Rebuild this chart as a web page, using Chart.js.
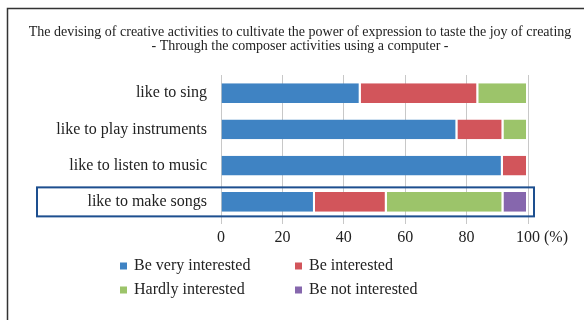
<!DOCTYPE html>
<html>
<head>
<meta charset="utf-8">
<script src="https://cdn.jsdelivr.net/npm/chart.js@4/dist/chart.umd.min.js"></script>
<style>
  html, body { margin: 0; padding: 0; background: #fff; }
  #wrap { width: 584px; height: 320px; }
</style>
</head>
<body>
<div id="wrap"><canvas id="myChart" width="584" height="320"></canvas></div>
<script>
// data (%)
var categories = ['like to sing', 'like to play instruments', 'like to listen to music', 'like to make songs'];
var veryInterested = [45.5, 77, 91.8, 30.6];
var interested = [38.3, 15, 8.2, 23.4];
var hardlyInterested = [16.2, 8, 0, 38];
var notInterested = [0, 0, 0, 8];
var xTicks = [0, 20, 40, 60, 80, 100];
var seriesNames = ['Be very interested', 'Be interested', 'Hardly interested', 'Be not interested'];
var titleLines = [
    'The devising of creative activities to cultivate the power of expression to taste the joy of creating',
    '- Through the composer activities using a computer -'
];

var serif = '"Liberation Serif", "Times New Roman", serif';
var colors = ['#3f83c3', '#d2555b', '#9cc46a', '#8667ad'];

function ds(i, values) {
    return {
        label: seriesNames[i],
        data: values,
        backgroundColor: colors[i],
        borderColor: '#ffffff',
        borderWidth: {top: 0, bottom: 0, left: 0, right: 2},
        borderSkipped: false,
        barPercentage: 0.55,
        categoryPercentage: 1
    };
}

// frame, title, highlight box, legend and the (%) unit
var extras = {
    id: 'extras',
    beforeDraw: function(chart){
        var ctx = chart.ctx;
        ctx.save();
        ctx.fillStyle = '#fff';
        ctx.fillRect(0, 0, chart.width, chart.height);
        ctx.strokeStyle = '#333';
        ctx.lineWidth = 1.5;
        ctx.beginPath();
        ctx.moveTo(7.5, chart.height);
        ctx.lineTo(7.5, 8.5);
        ctx.lineTo(chart.width, 8.5);
        ctx.stroke();

        ctx.fillStyle = '#222';
        ctx.font = '14px ' + serif;
        ctx.textAlign = 'center';
        ctx.textBaseline = 'middle';
        ctx.fillText(titleLines[0], 300, 32);
        ctx.fillText(titleLines[1], 300, 46);
        ctx.restore();
    },
    afterDraw: function(chart){
        var ctx = chart.ctx;
        var x = chart.scales.x, y = chart.scales.y;
        ctx.save();
        // box round the last row
        var cy = y.getPixelForValue(3);
        ctx.strokeStyle = '#1d4f8f';
        ctx.lineWidth = 2;
        ctx.strokeRect(37, cy - 14.5, x.getPixelForValue(100) + 6 - 37, 29);

        // unit
        ctx.fillStyle = '#222';
        ctx.font = '16px ' + serif;
        ctx.textBaseline = 'middle';
        ctx.textAlign = 'left';
        ctx.fillText('(%)', x.getPixelForValue(100) + 16, 238);

        // legend in two columns
        var cols = [120, 295];
        var rows = [266, 290];
        chart.data.datasets.forEach(function(d, i){
            var lx = cols[i % 2], ly = rows[Math.floor(i / 2)];
            ctx.fillStyle = d.backgroundColor;
            ctx.fillRect(lx, ly - 3.5, 7, 7);
            ctx.fillStyle = '#222';
            ctx.fillText(d.label, lx + 14, ly);
        });
        ctx.restore();
    }
};

var ctx = document.getElementById('myChart').getContext('2d');
var chart = new Chart(ctx, {
    type: 'bar',
    data: {
        labels: categories,
        datasets: [ds(0, veryInterested), ds(1, interested), ds(2, hardlyInterested), ds(3, notInterested)]
    },
    plugins: [extras],
    options: {
        indexAxis: 'y',
        responsive: false,
        animation: false,
        layout: {padding: {top: 75, left: 0, right: 56, bottom: 70}},
        plugins: {
            legend: {display: false},
            tooltip: {enabled: false},
            title: {display: false}
        },
        scales: {
            x: {
                stacked: true,
                min: 0,
                max: 100,
                afterBuildTicks: function(scale){
                    scale.ticks = xTicks.map(function(v){ return {value: v}; });
                },
                afterFit: function(scale){ scale.height = 30; },
                grid: {color: '#c8c8c8', lineWidth: 1, tickLength: 4},
                border: {display: false},
                ticks: {color: '#222', font: {family: serif, size: 16}, padding: 4, maxRotation: 0}
            },
            y: {
                stacked: true,
                afterFit: function(scale){ scale.width = 221; },
                grid: {display: false, drawTicks: false},
                border: {display: false},
                ticks: {color: '#222', font: {family: serif, size: 16}, padding: 14}
            }
        }
    }
});
</script>
</body>
</html>
